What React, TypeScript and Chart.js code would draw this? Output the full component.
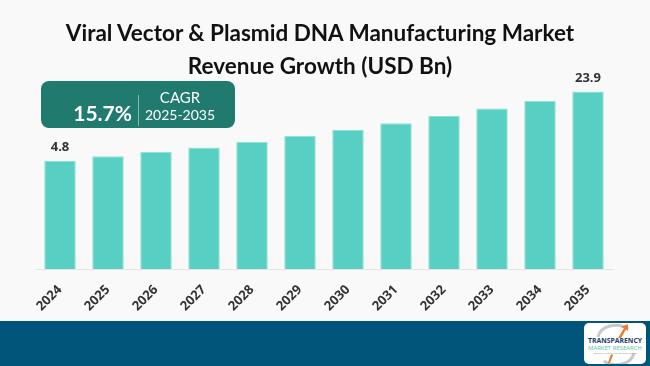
import React, { useEffect, useRef } from "react";
import { Chart, registerables } from "chart.js";

Chart.register(...registerables);

const titleLines = ["Viral Vector & Plasmid DNA Manufacturing Market", "Revenue Growth (USD Bn)"];
const years = ["2024", "2025", "2026", "2027", "2028", "2029", "2030", "2031", "2032", "2033", "2034", "2035"];
const revenue = [4.8, 6.1, 7.3, 8.5, 10.1, 11.7, 13.3, 15.2, 17.2, 19.2, 21.4, 23.9];
const valueLabels = ["4.8", "", "", "", "", "", "", "", "", "", "", "23.9"];
const cagrValue = "15.7%";
const cagrLabel = "CAGR";
const cagrPeriod = "2025-2035";
const yMin = -25;
const yMax = 32.6;

const valueLabelPlugin = {
  id: "valueLabels",
  afterDatasetsDraw(chart: any) {
    const ctx = chart.ctx;
    const meta = chart.getDatasetMeta(0);
    ctx.save();
    ctx.font = "bold 13px 'Open Sans'";
    ctx.fillStyle = "#333333";
    ctx.textAlign = "center";
    ctx.textBaseline = "bottom";
    meta.data.forEach((el: any, i: number) => {
      const t = valueLabels[i];
      if (t) ctx.fillText(t, el.x, el.y - 7);
    });
    ctx.restore();
  },
};

function BarChart() {
  const ref = useRef<HTMLCanvasElement>(null);
  useEffect(() => {
    if (!ref.current) return;
    const chart = new Chart(ref.current, {
      type: "bar",
      data: {
        labels: years,
        datasets: [
          {
            data: revenue,
            base: yMin,
            backgroundColor: "#58cfc3",
            borderColor: "#8fe0d6",
            borderWidth: 1,
            categoryPercentage: 1,
            barPercentage: 0.656,
          } as any,
        ],
      },
      options: {
        responsive: false,
        animation: false,
        events: [],
        layout: { padding: { left: 36, right: 38, top: 60, bottom: 0 } },
        plugins: { legend: { display: false }, tooltip: { enabled: false }, title: { display: false } },
        scales: {
          x: {
            grid: { display: false, drawTicks: false },
            border: { display: true, color: "#e3e3e3", width: 1 },
            ticks: {
              minRotation: 45,
              maxRotation: 45,
              padding: 13,
              color: "#333333",
              font: { family: "'Open Sans'", weight: "bold", size: 13 },
            },
            afterFit(scale: any) {
              scale.height = 52;
            },
          },
          y: { display: false, min: yMin, max: yMax },
        },
      },
      plugins: [valueLabelPlugin],
    });
    return () => chart.destroy();
  }, []);
  return <canvas ref={ref} width={650} height={321} style={{ position: "absolute", left: 0, top: 0, display: "block" }} />;
}

function Logo() {
  return (
    <div
      style={{
        position: "absolute",
        left: 584,
        top: 323,
        width: 62,
        height: 41,
        background: "#ffffff",
        borderRadius: 5,
        overflow: "hidden",
      }}
    >
      <svg width={62} height={41} viewBox="0 0 62 41">
        <path d="M 14 14 A 18 14 0 0 1 44 6" fill="none" stroke="#c8c8c8" strokeWidth={3} />
        <path d="M 20 38 A 18 14 0 0 0 50 30" fill="none" stroke="#c8c8c8" strokeWidth={3} />
        <path d="M 34 15 L 40 5 L 37 4 L 44 1 L 44 8 L 42 6.5 L 37 15 Z" fill="#f07b2c" />
        <path d="M 24 40 L 27 31 L 29 32 L 26 40 Z" fill="#f07b2c" />
        <text x={31} y={20} textAnchor="middle" fontFamily="'Open Sans'" fontWeight="bold" fontSize={6.5} fill="#1d3c68" textLength={54} lengthAdjust="spacingAndGlyphs">
          TRANSPARENCY
        </text>
        <text x={31} y={27} textAnchor="middle" fontFamily="'Open Sans'" fontSize={6} fill="#5cc0a8" textLength={54} lengthAdjust="spacingAndGlyphs">
          MARKET RESEARCH
        </text>
        <text x={31} y={31} textAnchor="middle" fontFamily="'Open Sans'" fontSize={2.5} fill="#888888" textLength={44} lengthAdjust="spacingAndGlyphs">
          Insights & Analysis for Decision Makers
        </text>
      </svg>
    </div>
  );
}

export default function App() {
  return (
    <div
      style={{
        position: "absolute",
        left: 0,
        top: 0,
        width: 650,
        height: 366,
        background: "#f9f9f9",
        overflow: "hidden",
        fontFamily: "'Open Sans', sans-serif",
      }}
    >
      <BarChart />
      {titleLines.map((t, i) => (
        <div
          key={i}
          style={{
            position: "absolute",
            left: 0,
            width: 640,
            top: 16 + i * 33,
            height: 33,
            lineHeight: "33px",
            textAlign: "center",
            fontFamily: "Lato, sans-serif",
            fontWeight: 700,
            fontSize: 22.5,
            color: "#111111",
            whiteSpace: "nowrap",
          }}
        >
          {t}
        </div>
      ))}
      <div
        style={{
          position: "absolute",
          left: 41,
          top: 81,
          width: 194,
          height: 47,
          background: "#217a6e",
          borderRadius: 8,
          color: "#ffffff",
        }}
      >
        <div
          style={{
            position: "absolute",
            right: 194 - 91,
            top: 20,
            height: 24,
            lineHeight: "24px",
            fontFamily: "Lato, sans-serif",
            fontWeight: 700,
            fontSize: 21,
            whiteSpace: "nowrap",
          }}
        >
          {cagrValue}
        </div>
        <div style={{ position: "absolute", left: 97, top: 14, width: 1, height: 31, background: "rgba(255,255,255,0.45)" }} />
        <div
          style={{
            position: "absolute",
            left: 100,
            width: 78,
            top: 6,
            height: 20,
            lineHeight: "20px",
            textAlign: "center",
            fontFamily: "Lato, sans-serif",
            fontSize: 15,
            whiteSpace: "nowrap",
          }}
        >
          {cagrLabel}
        </div>
        <div
          style={{
            position: "absolute",
            left: 100,
            width: 78,
            top: 25,
            height: 18,
            lineHeight: "18px",
            textAlign: "center",
            fontFamily: "Lato, sans-serif",
            fontSize: 14,
            whiteSpace: "nowrap",
          }}
        >
          {cagrPeriod}
        </div>
      </div>
      <div style={{ position: "absolute", left: 0, top: 321, width: 650, height: 45, background: "#01557a" }} />
      <Logo />
    </div>
  );
}
